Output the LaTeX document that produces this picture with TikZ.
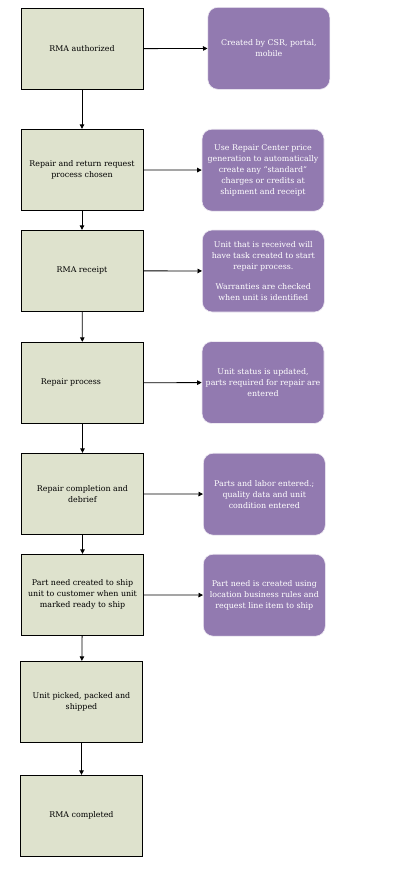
\documentclass[tikz,border=0pt]{standalone}
\usepackage{fontspec}
\setmainfont{DejaVu Serif}
\usetikzlibrary{arrows.meta}
\definecolor{stepgreen}{RGB}{222,226,205}
\definecolor{notepurple}{RGB}{146,122,176}
\begin{document}
\begin{tikzpicture}[x=1pt,y=-1pt,
  stepbox/.style={draw=black, line width=0.9pt, fill=stepgreen, minimum width=122pt, minimum height=81pt, inner sep=0pt, align=center, font=\fontsize{7.9}{11}\selectfont},
  notebox/.style={draw=white!85!notepurple, line width=0.6pt, fill=notepurple, rounded corners=10pt, minimum width=122pt, minimum height=82pt, inner sep=0pt, align=center, text=white, font=\fontsize{7.9}{11}\selectfont},
  flow/.style={draw=black, line width=0.8pt, -{Triangle[length=4.5pt,width=4.5pt]}}
]
\useasboundingbox (0,0) rectangle (404,876);
\fill[white] (0,0) rectangle (404,876);

\node[stepbox] (g1) at (82,48.8) {RMA authorized};
\node[stepbox] (g2) at (82,169.8) {Repair and return request\\process chosen};
\node[stepbox] (g3) at (82,270.8) {RMA receipt};
\node[stepbox] (g4) at (82.5,382.8) {Repair process\hspace*{23pt}};
\node[stepbox] (g5) at (82.5,493.8) {Repair completion and\\debrief};
\node[stepbox] (g6) at (82.5,594.8) {Part need created to ship\\unit to customer when unit\\marked ready to ship};
\node[stepbox] (g7) at (81.5,701.8) {Unit picked, packed and\\shipped};
\node[stepbox] (g8) at (81.5,815.8) {RMA completed};

\node[notebox] (p1) at (268.8,48.3) {Created by CSR, portal,\\mobile};
\node[notebox] (p2) at (263,170.2) {Use Repair Center price\\generation to automatically\\create any ``standard''\\charges or credits at\\shipment and receipt};
\node[notebox] (p3) at (263.3,271) {Unit that is received will\\have task created to start\\repair process.\\[9.5pt]Warranties are checked\\when unit is identified};
\node[notebox] (p4) at (263,382.5) {Unit status is updated,\\parts required for repair are\\entered};
\node[notebox] (p5) at (264.3,494.2) {Parts and labor entered.;\\quality data and unit\\condition entered};
\node[notebox] (p6) at (264.3,595.2) {Part need is created using\\location business rules and\\request line item to ship};

\draw[flow] (g1) -- (p1);
\draw[flow] (g2) -- (p2);
\draw[flow] (g3) -- (p3);
\draw[flow] (g4) -- (p4);
\draw[flow] (g5) -- (p5);
\draw[flow] (g6) -- (p6);

\draw[flow] (g1) -- (g2);
\draw[flow] (g2) -- (g3);
\draw[flow] (g3) -- (g4);
\draw[flow] (g4) -- (g5);
\draw[flow] (g5) -- (g6);
\draw[flow] (g6) -- (g7);
\draw[flow] (g7) -- (g8);
\end{tikzpicture}
\end{document}
